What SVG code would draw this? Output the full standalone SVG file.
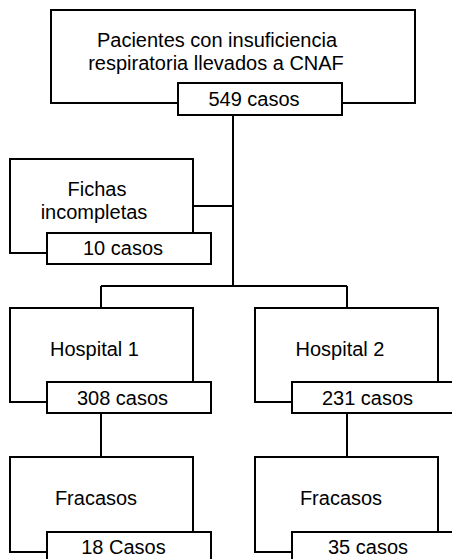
<svg xmlns="http://www.w3.org/2000/svg" width="452" height="559" viewBox="0 0 452 559">
<style>
.b{fill:#fff;stroke:#000;stroke-width:2}
.c{fill:none;stroke:#000;stroke-width:2}
text{font-family:"Liberation Sans",Arial,sans-serif;font-size:20px;fill:#000;text-anchor:middle}
</style>
<rect width="452" height="559" fill="#fff"/>
<g id="connectors">
<path class="c" d="M233 115V286M193 206H233M101 286H347M101 286V308M347 286V308M101 413V457M347 413V457"/>
</g>
<g id="pacientes">
<rect class="b" x="51" y="10" width="364" height="93"/>
<text x="217" y="47">Pacientes con insuficiencia</text>
<text x="216" y="70">respiratoria llevados a CNAF</text>
<rect class="b" x="178" y="83" width="164" height="32"/>
<text x="254" y="106">549 casos</text>
</g>
<g id="fichas">
<rect class="b" x="10" y="159" width="183" height="94"/>
<text x="97" y="196">Fichas</text>
<text x="94" y="219">incompletas</text>
<rect class="b" x="47" y="233" width="164" height="31"/>
<text x="123" y="255">10 casos</text>
</g>
<g id="hospital1">
<rect class="b" x="10" y="308" width="183" height="94"/>
<text x="94.5" y="356">Hospital 1</text>
<rect class="b" x="47" y="382" width="164" height="31"/>
<text x="122.5" y="405">308 casos</text>
</g>
<g id="hospital2">
<rect class="b" x="255" y="308" width="183" height="94"/>
<text x="340" y="356">Hospital 2</text>
<rect class="b" x="292" y="382" width="164" height="31"/>
<text x="367.5" y="405">231 casos</text>
</g>
<g id="fracasos1">
<rect class="b" x="10" y="457" width="183" height="95"/>
<text x="96" y="505">Fracasos</text>
<rect class="b" x="47" y="532" width="164" height="40"/>
<text x="123.5" y="554">18 Casos</text>
</g>
<g id="fracasos2">
<rect class="b" x="255" y="457" width="183" height="95"/>
<text x="341" y="505">Fracasos</text>
<rect class="b" x="292" y="532" width="164" height="40"/>
<text x="368" y="554">35 casos</text>
</g>
</svg>
